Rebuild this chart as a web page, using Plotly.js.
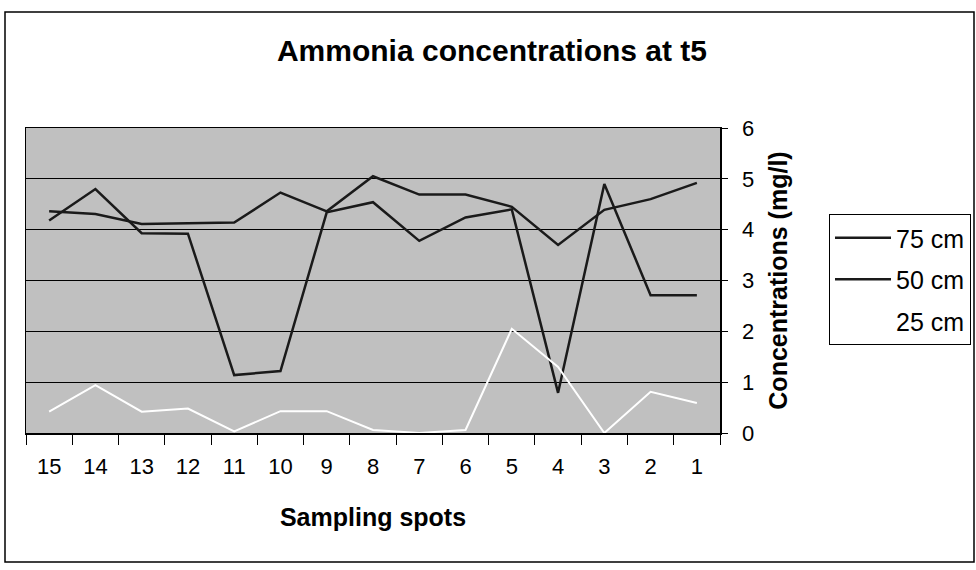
<!DOCTYPE html>
<html>
<head>
<meta charset="utf-8">
<script src="https://cdn.plot.ly/plotly-3.0.1.min.js"></script>
<style>
  html, body { margin: 0; padding: 0; background: #ffffff; }
  #chart { width: 976px; height: 570px; }
</style>
</head>
<body>
<div id="chart"></div>
<script>
// Sampling spots (x categories, left to right)
const categories = ['15','14','13','12','11','10','9','8','7','6','5','4','3','2','1'];
// Ammonia concentrations (mg/l)
const cm75 = [4.18, 4.80, 3.93, 3.92, 1.14, 1.22, 4.34, 4.54, 3.78, 4.24, 4.40, 0.79, 4.90, 2.71, 2.71];
const cm50 = [4.36, 4.31, 4.11, 4.12, 4.14, 4.73, 4.36, 5.05, 4.69, 4.69, 4.45, 3.70, 4.39, 4.60, 4.92];
const cm25 = [0.42, 0.94, 0.42, 0.48, 0.03, 0.43, 0.43, 0.06, 0.00, 0.06, 2.05, 1.30, 0.00, 0.81, 0.59];
const seriesNames = ['75 cm', '50 cm', '25 cm'];
const yTicks = [0, 1, 2, 3, 4, 5, 6];

const FONT = 'Liberation Sans, Arial, Helvetica, sans-serif';

const traces = [
  {x: categories, y: cm75, name: seriesNames[0], legendgroup: 'a', type: 'scatter', mode: 'lines',
   line: {color: '#1a1a1a', width: 2.5}},
  {x: categories, y: cm50, name: seriesNames[1], legendgroup: 'b', type: 'scatter', mode: 'lines',
   line: {color: '#1a1a1a', width: 2.5}},
  {x: categories, y: cm25, name: seriesNames[2], legendgroup: 'c', type: 'scatter', mode: 'lines',
   line: {color: '#ffffff', width: 2}}
];

const L = 26, R = 720, T = 128, B = 433, W = 976, H = 570;
const px2x = p => (p - L) / (R - L);
const py2y = p => (B - p) / (B - T);

const layout = {
  width: W, height: H,
  margin: {l: L, r: W - R, t: T, b: H - B, pad: 0, autoexpand: false},
  paper_bgcolor: '#ffffff',
  plot_bgcolor: '#c0c0c0',
  font: {family: FONT, color: '#000000', size: 22},
  showlegend: true,
  title: {
    text: 'Ammonia concentrations at t5',
    font: {family: FONT, size: 30, weight: 'bold', color: '#000'},
    x: 492 / W, xanchor: 'center', xref: 'container',
    y: 1 - 50 / H, yanchor: 'middle', yref: 'container'
  },
  xaxis: {
    type: 'category',
    categoryorder: 'array', categoryarray: categories,
    range: [-0.5, categories.length - 0.5],
    showline: true, linecolor: '#000', linewidth: 1.5,
    mirror: true,
    ticks: 'outside', tickson: 'boundaries', ticklen: 10, tickcolor: '#000', tickwidth: 1,
    ticklabelstandoff: 13,
    showgrid: false, zeroline: false,
    tickfont: {family: FONT, size: 22},
    title: {text: 'Sampling spots', font: {family: FONT, size: 25, weight: 'bold'}, standoff: 30}
  },
  yaxis: {
    side: 'right',
    range: [0, 6],
    tickvals: yTicks,
    showline: true, linecolor: '#000', linewidth: 1.5,
    mirror: true,
    ticks: 'outside', ticklen: 6, tickcolor: '#000',
    ticklabelstandoff: 10,
    showgrid: true, gridcolor: '#000', gridwidth: 1,
    zeroline: false,
    tickfont: {family: FONT, size: 22},
    title: {text: 'Concentrations (mg/l)', font: {family: FONT, size: 25, weight: 'bold'}, standoff: 16}
  },
  legend: {
    x: px2x(829), xanchor: 'left', xref: 'paper',
    y: py2y(214), yanchor: 'top', yref: 'paper',
    bgcolor: '#ffffff', bordercolor: '#000', borderwidth: 1,
    font: {family: FONT, size: 25},
    tracegroupgap: 6, itemwidth: 56
  },
  shapes: [
    {type: 'rect', xref: 'paper', yref: 'paper',
     x0: px2x(5), x1: px2x(974), y0: py2y(562), y1: py2y(12),
     line: {color: '#000', width: 1.5}, fillcolor: 'rgba(0,0,0,0)', layer: 'below'}
  ]
};

Plotly.newPlot('chart', traces, layout, {staticPlot: true, displayModeBar: false});
</script>
</body>
</html>
